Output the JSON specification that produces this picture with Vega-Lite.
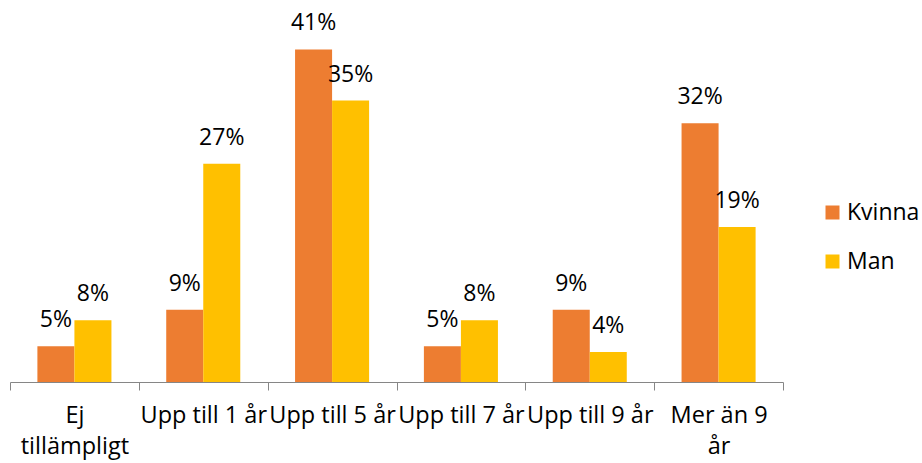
{
  "$schema": "https://vega.github.io/schema/vega-lite/v6.json",
  "width": 773,
  "height": 365,
  "autosize": {"type": "none"},
  "padding": {"left": 10, "top": 17, "right": 139, "bottom": 81},
  "config": {"view": {"stroke": null}, "font": "Open Sans"},
  "data": {
    "values": [
      {"cat": "Ej tillämpligt", "sex": "Kvinna", "value": 4.4, "label": "5%"},
      {"cat": "Ej tillämpligt", "sex": "Man", "value": 7.6, "label": "8%"},
      {"cat": "Upp till 1 år", "sex": "Kvinna", "value": 8.9, "label": "9%"},
      {"cat": "Upp till 1 år", "sex": "Man", "value": 26.9, "label": "27%"},
      {"cat": "Upp till 5 år", "sex": "Kvinna", "value": 41, "label": "41%"},
      {"cat": "Upp till 5 år", "sex": "Man", "value": 34.7, "label": "35%"},
      {"cat": "Upp till 7 år", "sex": "Kvinna", "value": 4.4, "label": "5%"},
      {"cat": "Upp till 7 år", "sex": "Man", "value": 7.6, "label": "8%"},
      {"cat": "Upp till 9 år", "sex": "Kvinna", "value": 8.9, "label": "9%"},
      {"cat": "Upp till 9 år", "sex": "Man", "value": 3.7, "label": "4%"},
      {"cat": "Mer än 9 år", "sex": "Kvinna", "value": 31.9, "label": "32%"},
      {"cat": "Mer än 9 år", "sex": "Man", "value": 19.1, "label": "19%"}
    ]
  },
  "encoding": {
    "x": {
      "field": "cat",
      "type": "nominal",
      "sort": null,
      "scale": {"paddingInner": 0, "paddingOuter": 0},
      "axis": {
        "title": null,
        "labelAngle": 0,
        "tickBand": "extent",
        "tickSize": 8,
        "domainColor": "#868686",
        "tickColor": "#868686",
        "labelColor": "#000000",
        "labelFontSize": 23.5,
        "labelPadding": 13,
        "labelBaseline": "top",
        "labelLineHeight": 31,
        "labelOverlap": false,
        "labelLimit": 0,
        "labelExpr": "datum.value == 'Ej tillämpligt' ? ['Ej', 'tillämpligt'] : datum.value == 'Mer än 9 år' ? ['Mer än 9', 'år'] : datum.value"
      }
    },
    "xOffset": {
      "field": "sex",
      "type": "nominal",
      "scale": {"paddingInner": 0, "paddingOuter": 0.74}
    },
    "y": {
      "field": "value",
      "type": "quantitative",
      "scale": {"domain": [0, 45]},
      "axis": null
    }
  },
  "layer": [
    {
      "mark": {"type": "bar"},
      "encoding": {
        "color": {
          "field": "sex",
          "type": "nominal",
          "scale": {"domain": ["Kvinna", "Man"], "range": ["#ED7D31", "#FFC000"]},
          "legend": {
            "title": null,
            "orient": "none",
            "legendX": 811,
            "legendY": 184,
            "symbolType": "square",
            "symbolSize": 196,
            "symbolStrokeWidth": 0,
            "labelFontSize": 23,
            "labelColor": "#000000",
            "labelOffset": 3,
            "rowPadding": 25
          }
        }
      }
    },
    {
      "mark": {"type": "text", "baseline": "alphabetic", "dy": -19, "fontSize": 23, "color": "#000000"},
      "encoding": {"text": {"field": "label"}}
    }
  ]
}
